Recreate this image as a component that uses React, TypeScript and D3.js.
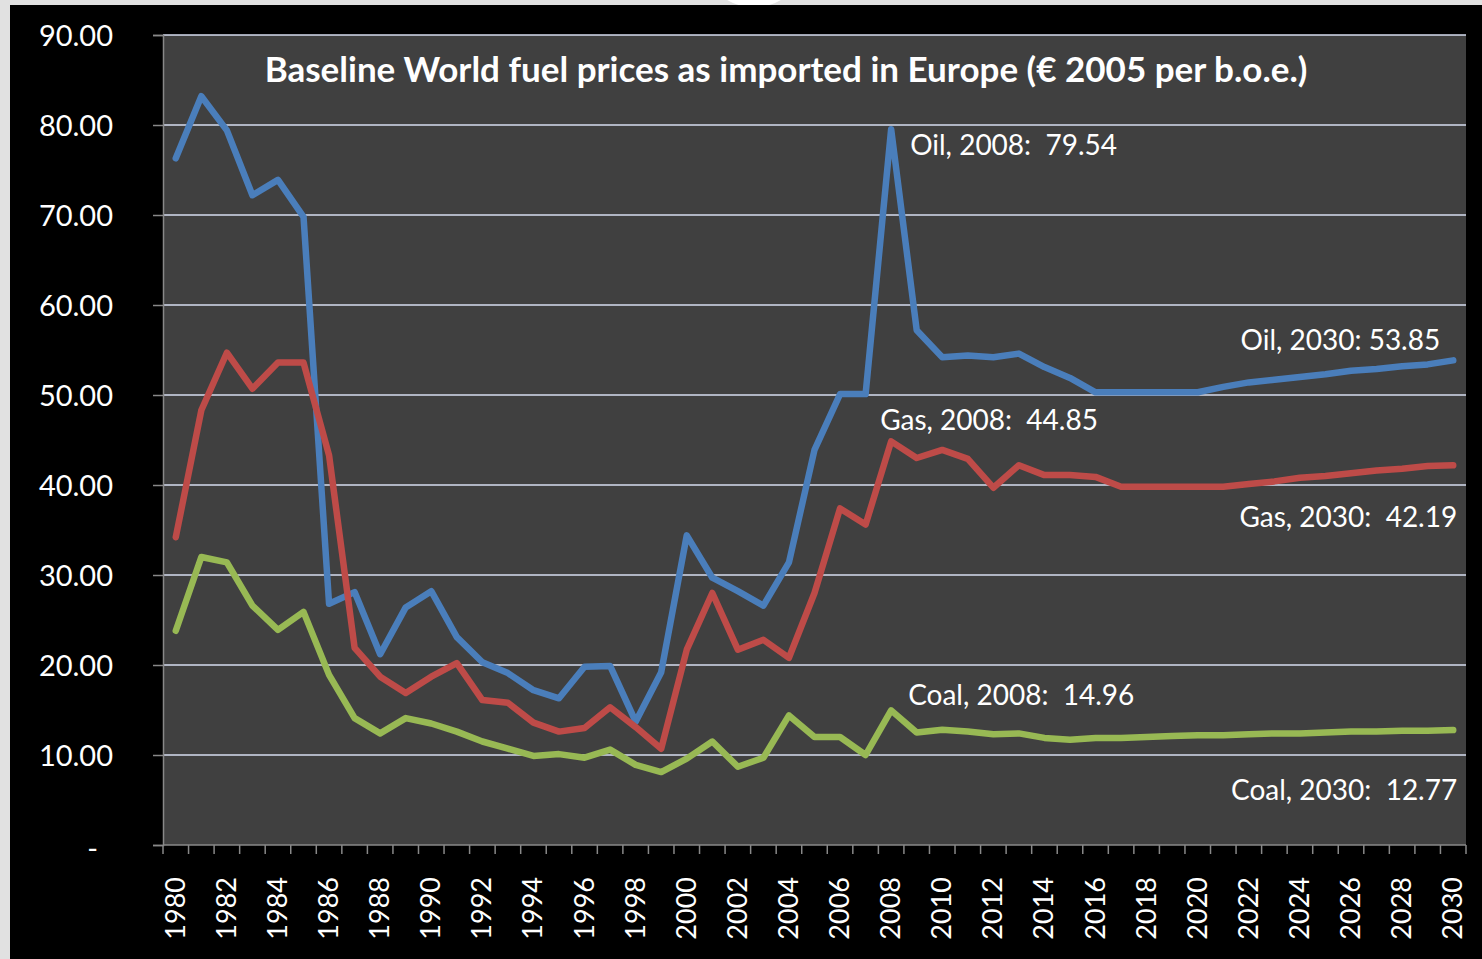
import React, { useEffect, useRef } from "react";
import * as d3 from "d3";

const years = d3.range(1980, 2031);

// € 2005 per b.o.e.
const oil = [
  76.3, 83.2, 79.4, 72.2, 73.9, 69.8, 26.8, 28.1, 21.2, 26.4,
  28.2, 23.1, 20.3, 19.1, 17.2, 16.3, 19.8, 19.9, 13.7, 19.2,
  34.4, 29.7, 28.2, 26.6, 31.4, 43.9, 50.1, 50.1, 79.54, 57.2,
  54.2, 54.4, 54.2, 54.6, 53.1, 51.9, 50.3, 50.3, 50.3, 50.3,
  50.3, 50.9, 51.4, 51.7, 52.0, 52.3, 52.7, 52.9, 53.2, 53.4,
  53.85,
];
const gas = [
  34.2, 48.3, 54.7, 50.7, 53.6, 53.6, 43.3, 21.9, 18.7, 16.9,
  18.7, 20.2, 16.1, 15.8, 13.6, 12.6, 13.0, 15.3, 13.1, 10.7,
  21.7, 28.0, 21.7, 22.8, 20.8, 28.0, 37.4, 35.6, 44.85, 43.0,
  43.9, 42.9, 39.7, 42.2, 41.1, 41.1, 40.9, 39.8, 39.8, 39.8,
  39.8, 39.8, 40.1, 40.4, 40.8, 41.0, 41.3, 41.6, 41.8, 42.1,
  42.19,
];
const coal = [
  23.8, 32.0, 31.4, 26.6, 23.9, 25.9, 18.9, 14.1, 12.4, 14.1,
  13.5, 12.6, 11.5, 10.7, 9.9, 10.1, 9.7, 10.6, 8.9, 8.1,
  9.6, 11.5, 8.7, 9.7, 14.4, 12.0, 12.0, 10.0, 14.96, 12.5,
  12.8, 12.6, 12.3, 12.4, 11.9, 11.7, 11.9, 11.9, 12.0, 12.1,
  12.2, 12.2, 12.3, 12.4, 12.4, 12.5, 12.6, 12.6, 12.7, 12.7,
  12.77,
];

const seriesColors = ["#4a7ebb", "#be4b48", "#98b954"];
const yTicks = [0, 10, 20, 30, 40, 50, 60, 70, 80, 90];
const title = "Baseline World fuel prices as imported in Europe (€ 2005 per b.o.e.)";

// data labels: series, year, text
const labels = [
  { s: 0, year: 2008, text: "Oil, 2008:  79.54", dx: 19, dy: 26, anchor: "start" },
  { s: 1, year: 2008, text: "Gas, 2008:  44.85", dx: -11, dy: -11, anchor: "start" },
  { s: 2, year: 2008, text: "Coal, 2008:  14.96", dx: 17, dy: -5, anchor: "start" },
  { s: 0, year: 2030, text: "Oil, 2030: 53.85", dx: -13, dy: -10, anchor: "end" },
  { s: 1, year: 2030, text: "Gas, 2030:  42.19", dx: 4, dy: 62, anchor: "end" },
  { s: 2, year: 2030, text: "Coal, 2030:  12.77", dx: 4, dy: 70, anchor: "end" },
];

const W = 1482;
const H = 959;
const FONT = "Lato, 'Open Sans', sans-serif";

const App = () => {
  const svgRef = useRef(null);

  useEffect(() => {
    const svg = d3.select(svgRef.current);
    svg.selectAll("*").remove();

    const plot = { left: 163, right: 1466, top: 35, bottom: 845 };

    // page + slide background
    svg.append("rect").attr("width", W).attr("height", H).attr("fill", "#e1e1e1");
    svg.append("ellipse").attr("cx", 754).attr("cy", -20).attr("rx", 40).attr("ry", 27).attr("fill", "#fff");
    svg.append("rect").attr("x", 10).attr("y", 5).attr("width", W - 10).attr("height", H - 5).attr("fill", "#000");

    const x = d3.scaleBand().domain(years).range([plot.left, plot.right]).padding(0);
    const cx = (yr) => x(yr) + x.bandwidth() / 2;
    const y = d3.scaleLinear().domain([0, 90]).range([plot.bottom, plot.top]);

    svg
      .append("rect")
      .attr("x", plot.left)
      .attr("y", plot.top)
      .attr("width", plot.right - plot.left)
      .attr("height", plot.bottom - plot.top)
      .attr("fill", "#404040");

    // gridlines
    svg
      .append("g")
      .selectAll("line")
      .data(yTicks.filter((t) => t > 0))
      .enter()
      .append("line")
      .attr("x1", plot.left)
      .attr("x2", plot.right)
      .attr("y1", (d) => y(d))
      .attr("y2", (d) => y(d))
      .attr("stroke", "#d6dcef")
      .attr("stroke-width", 1.6);

    // y axis
    const yAxis = d3
      .axisLeft(y)
      .tickValues(yTicks)
      .tickSize(10)
      .tickPadding(40)
      .tickFormat((d) => (d === 0 ? "-" : d3.format(".2f")(d)));
    const gy = svg.append("g").attr("transform", `translate(${plot.left},0)`).call(yAxis);
    gy.select(".domain").attr("stroke", "#888").attr("stroke-width", 1.5);
    gy.selectAll(".tick line").attr("stroke", "#888").attr("stroke-width", 1.5);
    gy.selectAll(".tick text")
      .attr("fill", "#fff")
      .style("font-family", FONT)
      .style("font-size", "29px")
      .attr("dy", "0.35em");
    gy.selectAll(".tick")
      .filter((d) => d === 0)
      .select("text")
      .attr("x", -65)
      .attr("dy", "0.45em");

    // x axis: ticks at category edges, labels every other year
    const edges = years.map((yr) => x(yr)).concat([plot.right]);
    svg
      .append("line")
      .attr("x1", plot.left)
      .attr("x2", plot.right)
      .attr("y1", plot.bottom)
      .attr("y2", plot.bottom)
      .attr("stroke", "#888")
      .attr("stroke-width", 1.5);
    svg
      .append("g")
      .selectAll("line")
      .data(edges)
      .enter()
      .append("line")
      .attr("x1", (d) => d)
      .attr("x2", (d) => d)
      .attr("y1", plot.bottom)
      .attr("y2", plot.bottom + 9)
      .attr("stroke", "#888")
      .attr("stroke-width", 1.5);
    svg
      .append("g")
      .selectAll("text")
      .data(years.filter((yr) => yr % 2 === 0))
      .enter()
      .append("text")
      .attr("transform", (d) => `translate(${cx(d) + 9},${plot.bottom + 32}) rotate(-90)`)
      .attr("text-anchor", "end")
      .attr("fill", "#fff")
      .style("font-family", FONT)
      .style("font-size", "27px")
      .text((d) => d);

    // lines
    const line = d3
      .line()
      .x((d, i) => cx(years[i]))
      .y((d) => y(d));
    [oil, gas, coal].forEach((vals, i) => {
      svg
        .append("path")
        .datum(vals)
        .attr("d", line)
        .attr("fill", "none")
        .attr("stroke", seriesColors[i])
        .attr("stroke-width", 6.5)
        .attr("stroke-linejoin", "round")
        .attr("stroke-linecap", "round");
    });

    // title
    svg
      .append("text")
      .attr("x", 786)
      .attr("y", 82)
      .attr("text-anchor", "middle")
      .attr("fill", "#fff")
      .style("font-family", FONT)
      .style("font-weight", "bold")
      .style("font-size", "35px")
      .text(title);

    // data labels
    const all = [oil, gas, coal];
    svg
      .append("g")
      .selectAll("text")
      .data(labels)
      .enter()
      .append("text")
      .attr("x", (d) => cx(d.year) + d.dx)
      .attr("y", (d) => y(all[d.s][years.indexOf(d.year)]) + d.dy)
      .attr("text-anchor", (d) => d.anchor)
      .attr("fill", "#fff")
      .style("font-family", FONT)
      .style("font-size", "28px")
      .style("white-space", "pre")
      .text((d) => d.text);
  }, []);

  return (
    <svg
      ref={svgRef}
      width={W}
      height={H}
      style={{ position: "absolute", left: 0, top: 0, display: "block" }}
    ></svg>
  );
};

export default App;
